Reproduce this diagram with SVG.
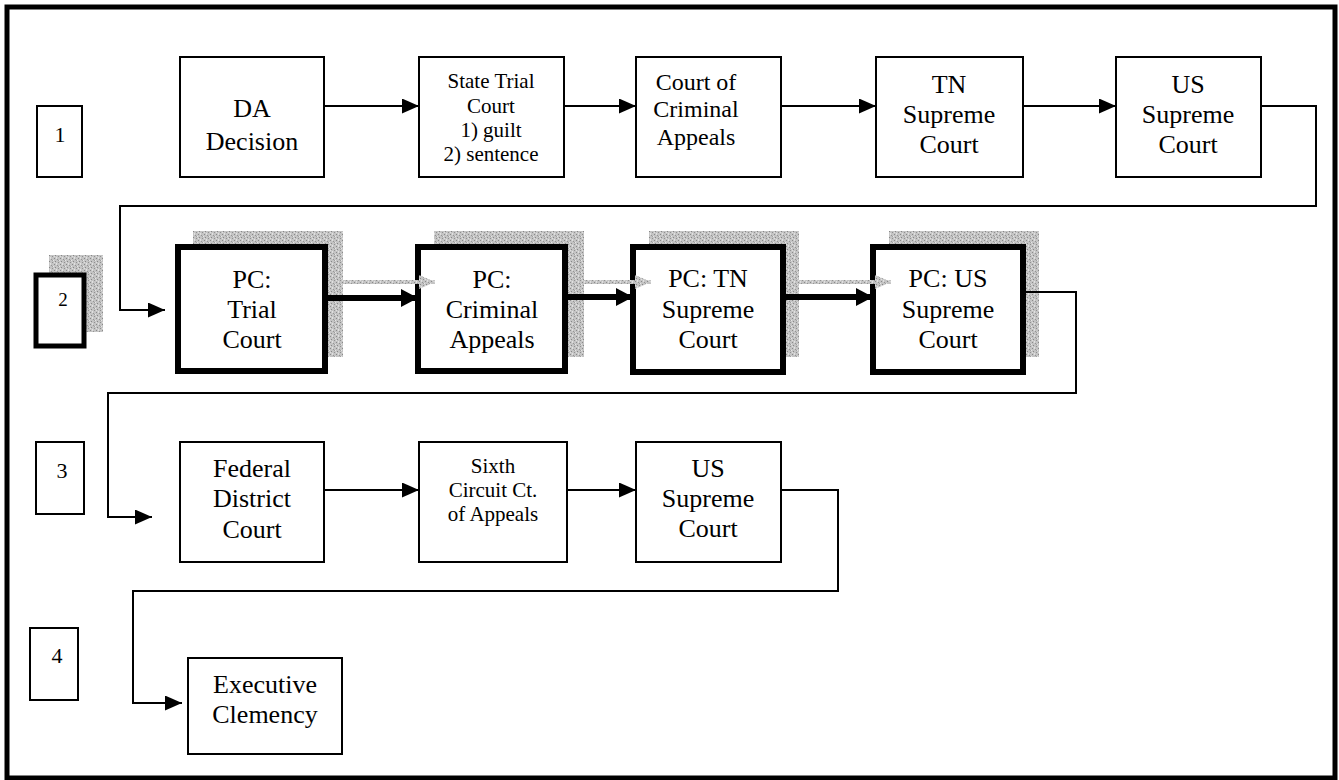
<svg xmlns="http://www.w3.org/2000/svg" width="1339" height="780" viewBox="0 0 1339 780">
<style>
.t{font-family:"Liberation Serif","Times New Roman",serif;fill:#000;text-anchor:middle}
.f26{font-size:26px}.f24{font-size:24px}.f21{font-size:21px}.f22{font-size:22px}.f19{font-size:19px}
.thin{fill:#fff;stroke:#000;stroke-width:2}
.thick{fill:#fff;stroke:#000;stroke-width:6}
.conn{fill:none;stroke:#000;stroke-width:2}
.bold{fill:none;stroke:#000;stroke-width:6}
.gline{fill:none;stroke:url(#noise);stroke-width:4}
.shadow{fill:url(#noise)}
</style>
<defs>
<pattern id="noise" width="6" height="6" patternUnits="userSpaceOnUse">
<rect width="6" height="6" fill="#c4c4c4"/>
<rect x="0" y="0" width="1" height="1" fill="#8a8a8a"/>
<rect x="3" y="1" width="1" height="1" fill="#959595"/>
<rect x="1" y="3" width="1" height="1" fill="#888"/>
<rect x="4" y="4" width="1" height="1" fill="#909090"/>
<rect x="5" y="2" width="1" height="1" fill="#e6e6e6"/>
<rect x="2" y="5" width="1" height="1" fill="#e2e2e2"/>
<rect x="2" y="0" width="1" height="1" fill="#dedede"/>
<rect x="0" y="4" width="1" height="1" fill="#e0e0e0"/>
<rect x="4" y="2" width="1" height="1" fill="#a0a0a0"/>
</pattern>
<marker id="ah" markerWidth="17" markerHeight="15" refX="17" refY="7.5" orient="auto" markerUnits="userSpaceOnUse">
<path d="M0,0 L17,7.5 L0,15 Z" fill="#000"/>
</marker>
<marker id="ahb" markerWidth="17" markerHeight="18" refX="17" refY="9" orient="auto" markerUnits="userSpaceOnUse">
<path d="M0,0 L17,9 L0,18 Z" fill="#000"/>
</marker>
<marker id="ahg" markerWidth="16" markerHeight="14" refX="16" refY="7" orient="auto" markerUnits="userSpaceOnUse">
<path d="M0,0 L16,7 L0,14 Z" fill="url(#noise)"/>
</marker>
</defs>
<rect width="1339" height="780" fill="#fff"/>
<rect id="frame" x="7" y="7" width="1328" height="771" fill="none" stroke="#000" stroke-width="5"/>

<g id="shadows">
<rect class="shadow" x="49" y="255" width="54" height="77"/>
<rect class="shadow" x="193" y="231" width="150" height="126"/>
<rect class="shadow" x="434" y="231" width="150" height="126"/>
<rect class="shadow" x="649" y="231" width="150" height="126"/>
<rect class="shadow" x="889" y="231" width="150" height="126"/>
</g>

<g id="connectors">
<path class="conn" d="M324,106 H419" marker-end="url(#ah)"/>
<path class="conn" d="M564,106 H636" marker-end="url(#ah)"/>
<path class="conn" d="M781,106 H876" marker-end="url(#ah)"/>
<path class="conn" d="M1023,106 H1116" marker-end="url(#ah)"/>
<path class="conn" d="M1261,106 H1316 V206 H120 V310 H165" marker-end="url(#ah)"/>
<path class="bold" d="M325,298 H418" marker-end="url(#ahb)"/>
<path class="bold" d="M565,297 H633" marker-end="url(#ahb)"/>
<path class="bold" d="M783,297 H873" marker-end="url(#ahb)"/>
<path class="conn" d="M1023,292 H1076 V393 H108 V517 H152" marker-end="url(#ah)"/>
<path class="conn" d="M324,490 H419" marker-end="url(#ah)"/>
<path class="conn" d="M567,490 H636" marker-end="url(#ah)"/>
<path class="conn" d="M781,490 H838 V591 H133 V703 H182" marker-end="url(#ah)"/>
</g>

<g id="step1"><rect class="thin" x="37" y="106" width="45" height="71"/><text class="t f22" x="60" y="142">1</text></g>
<g id="step2"><rect x="36" y="275" width="48" height="71" fill="#fff" stroke="#000" stroke-width="5"/><text class="t f19" x="63" y="306">2</text></g>
<g id="step3"><rect class="thin" x="36" y="442" width="48" height="72"/><text class="t f22" x="62" y="478">3</text></g>
<g id="step4"><rect class="thin" x="30" y="628" width="48" height="72"/><text class="t f22" x="57" y="663">4</text></g>

<g id="da-decision"><rect class="thin" x="180" y="57" width="144" height="120"/>
<text class="t f26" x="252" y="117">DA</text><text class="t f26" x="252" y="150">Decision</text></g>
<g id="state-trial-court"><rect class="thin" x="419" y="57" width="145" height="120"/>
<text class="t f21" x="491" y="88">State Trial</text><text class="t f21" x="491" y="113">Court</text><text class="t f21" x="491" y="137">1) guilt</text><text class="t f21" x="491" y="161">2) sentence</text></g>
<g id="court-criminal-appeals"><rect class="thin" x="636" y="57" width="145" height="120"/>
<text class="t f24" x="696" y="90">Court of</text><text class="t f24" x="696" y="117">Criminal</text><text class="t f24" x="696" y="145">Appeals</text></g>
<g id="tn-supreme"><rect class="thin" x="876" y="57" width="147" height="120"/>
<text class="t f26" x="949" y="93">TN</text><text class="t f26" x="949" y="123">Supreme</text><text class="t f26" x="949" y="153">Court</text></g>
<g id="us-supreme-1"><rect class="thin" x="1116" y="57" width="145" height="120"/>
<text class="t f26" x="1188" y="93">US</text><text class="t f26" x="1188" y="123">Supreme</text><text class="t f26" x="1188" y="153">Court</text></g>

<g id="pc-trial"><rect class="thick" x="178" y="247" width="147" height="124"/>
<text class="t f26" x="252" y="288">PC:</text><text class="t f26" x="252" y="318">Trial</text><text class="t f26" x="252" y="348">Court</text></g>
<g id="pc-criminal-appeals"><rect class="thick" x="418" y="247" width="147" height="124"/>
<text class="t f26" x="492" y="288">PC:</text><text class="t f26" x="492" y="318">Criminal</text><text class="t f26" x="492" y="348">Appeals</text></g>
<g id="pc-tn-supreme"><rect class="thick" x="633" y="247" width="150" height="125"/>
<text class="t f26" x="708" y="287">PC: TN</text><text class="t f26" x="708" y="318">Supreme</text><text class="t f26" x="708" y="348">Court</text></g>
<g id="pc-us-supreme"><rect class="thick" x="873" y="247" width="150" height="125"/>
<text class="t f26" x="948" y="287">PC: US</text><text class="t f26" x="948" y="318">Supreme</text><text class="t f26" x="948" y="348">Court</text></g>

<g id="shadow-arrows">
<path class="gline" d="M343,282 H435" marker-end="url(#ahg)"/>
<path class="gline" d="M584,282 H651" marker-end="url(#ahg)"/>
<path class="gline" d="M799,282 H891" marker-end="url(#ahg)"/>
</g>

<g id="federal-district"><rect class="thin" x="180" y="442" width="144" height="120"/>
<text class="t f26" x="252" y="477">Federal</text><text class="t f26" x="252" y="507">District</text><text class="t f26" x="252" y="538">Court</text></g>
<g id="sixth-circuit"><rect class="thin" x="419" y="442" width="148" height="120"/>
<text class="t f21" x="493" y="473">Sixth</text><text class="t f21" x="493" y="497">Circuit Ct.</text><text class="t f21" x="493" y="521">of Appeals</text></g>
<g id="us-supreme-3"><rect class="thin" x="636" y="442" width="145" height="120"/>
<text class="t f26" x="708" y="477">US</text><text class="t f26" x="708" y="507">Supreme</text><text class="t f26" x="708" y="537">Court</text></g>

<g id="executive-clemency"><rect class="thin" x="188" y="658" width="154" height="96"/>
<text class="t f26" x="265" y="693">Executive</text><text class="t f26" x="265" y="723">Clemency</text></g>
</svg>
